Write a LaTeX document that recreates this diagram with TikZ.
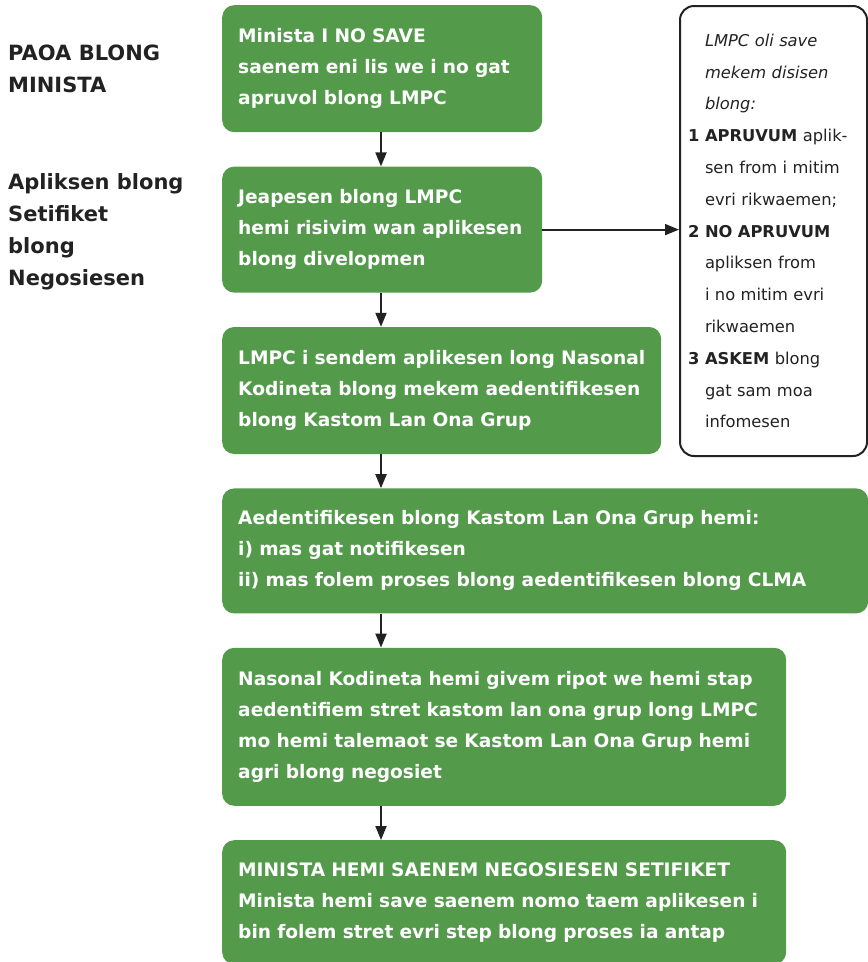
\documentclass[tikz,border=0pt]{standalone}
\usepackage{fontspec}
\setmainfont{DejaVu Sans}
\usepackage{xcolor}
\usetikzlibrary{arrows.meta,positioning}
\definecolor{flowgreen}{RGB}{83,154,75}
\definecolor{inkdark}{RGB}{34,34,34}
\newcommand{\nitem}[1]{\makebox[17pt][l]{\bfseries #1}}
\newcommand{\nind}{\hspace*{17pt}}
\tikzset{
  stepbox/.style={rectangle, rounded corners=12pt, fill=flowgreen, text=white, align=left, anchor=north west, inner xsep=16pt, inner ysep=0pt, text width=#1, font=\fontsize{18.6}{31}\selectfont\bfseries},
  sidelabel/.style={anchor=north west, align=left, inner sep=0pt, text=inkdark, font=\fontsize{21}{32}\selectfont\bfseries},
  notebox/.style={rectangle, rounded corners=14pt, draw=inkdark, line width=2pt, fill=white, anchor=north west, align=left, inner xsep=8pt, text width=171pt, minimum height=450pt, text=inkdark, font=\fontsize{16.3}{31.8}\selectfont},
  flowarrow/.style={draw=inkdark, line width=2pt, -{Triangle[length=14pt,width=11pt]}}
}

\begin{document}
\begin{tikzpicture}[x=1pt,y=-1pt]
  \useasboundingbox (0,0) rectangle (868,962);
  % side labels
  \node[sidelabel] (paoa) at (8,45) {PAOA BLONG\\MINISTA};
  \node[sidelabel] (apliksen) at (8,173) {Apliksen blong\\Setifiket\\blong\\Negosiesen};
  % steps
  \node[stepbox=288pt, minimum height=127pt] (b1) at (222,5)
    {Minista I NO SAVE\\saenem eni lis we i no gat\\apruvol blong LMPC};
  \node[stepbox=288pt, minimum height=126pt, below=34pt of b1.south west, anchor=north west] (b2)
    {Jeapesen blong LMPC\\hemi risivim wan aplikesen\\blong divelopmen};
  \node[stepbox=407pt, minimum height=127pt, below=34pt of b2.south west, anchor=north west] (b3)
    {\mbox{LMPC i sendem aplikesen long Nasonal}\\\mbox{Kodineta blong mekem aedentifikesen}\\blong Kastom Lan Ona Grup};
  \node[stepbox=614pt, minimum height=125pt, below=34pt of b3.south west, anchor=north west] (b4)
    {Aedentifikesen blong Kastom Lan Ona Grup hemi:\\i) mas gat notifikesen\\\mbox{ii) mas folem proses blong aedentifikesen blong CLMA}};
  \node[stepbox=532pt, minimum height=158pt, below=34pt of b4.south west, anchor=north west] (b5)
    {\mbox{Nasonal Kodineta hemi givem ripot we hemi stap}\\\mbox{aedentifiem stret kastom lan ona grup long LMPC}\\\mbox{mo hemi talemaot se Kastom Lan Ona Grup hemi}\\agri blong negosiet};
  \node[stepbox=532pt, minimum height=124pt, below=34pt of b5.south west, anchor=north west] (b6)
    {\mbox{MINISTA HEMI SAENEM NEGOSIESEN SETIFIKET}\\\mbox{Minista hemi save saenem nomo taem aplikesen i}\\\mbox{bin folem stret evri step blong proses ia antap}};
  % decisions
  \node[notebox] (note) at (679,5)
    {\nind\textit{LMPC oli save}\\
     \nind\textit{mekem disisen}\\
     \nind\textit{blong:}\\
     \nitem{1}\textbf{APRUVUM} aplik-\\
     \nind sen from i mitim\\
     \nind evri rikwaemen;\\
     \nitem{2}\textbf{NO APRUVUM}\\
     \nind apliksen from\\
     \nind i no mitim evri\\
     \nind rikwaemen\\
     \nitem{3}\textbf{ASKEM} blong\\
     \nind gat sam moa\\
     \nind infomesen};
  % connectors
  \coordinate (arrowx) at (381,0);
  \draw[flowarrow] (b1.south -| arrowx) -- (b2.north -| arrowx);
  \draw[flowarrow] (b2.south -| arrowx) -- (b3.north -| arrowx);
  \draw[flowarrow] (b3.south -| arrowx) -- (b4.north -| arrowx);
  \draw[flowarrow] (b4.south -| arrowx) -- (b5.north -| arrowx);
  \draw[flowarrow] (b5.south -| arrowx) -- (b6.north -| arrowx);
  \draw[flowarrow] (b2.east) -- (b2.east -| note.west);
\end{tikzpicture}
\end{document}
